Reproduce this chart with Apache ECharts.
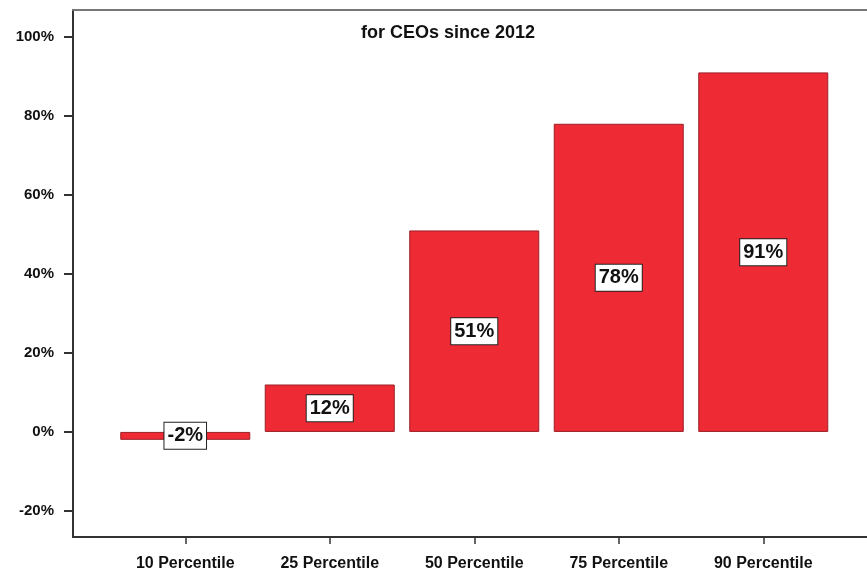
<!DOCTYPE html>
<html>
<head>
<meta charset="utf-8">
<script src="https://cdn.jsdelivr.net/npm/echarts@6/dist/echarts.min.js"></script>
<style>
html,body{margin:0;padding:0;background:#fff;}
#chart{width:867px;height:574px;}
</style>
</head>
<body>
<div id="chart"></div>
<script>
const categories = ['10 Percentile', '25 Percentile', '50 Percentile', '75 Percentile', '90 Percentile'];
const values = [-2, 12, 51, 78, 91];
const yTicks = [-20, 0, 20, 40, 60, 80, 100];
const titleText = 'for CEOs since 2012';

const yMin = -26.6, yMax = 106.8;
const font = 'Liberation Sans, Arial, sans-serif';
const chart = echarts.init(document.getElementById('chart'), null, {renderer: 'canvas'});
chart.setOption({
  animation: false,
  backgroundColor: '#ffffff',
  title: {
    text: titleText,
    left: 443,
    top: 19,
    textAlign: 'center',
    textStyle: {fontFamily: font, fontWeight: 'bold', fontSize: 18, color: '#111'}
  },
  grid: [
    {left: 73, right: 0, top: 10, bottom: 37},
    {left: 113, right: 31.5, top: 10, bottom: 37}
  ],
  xAxis: [
    {type: 'value', gridIndex: 0, min: 0, max: 1, position: 'bottom',
     axisLine: {show: true, onZero: false, lineStyle: {color: '#333', width: 2}},
     axisTick: {show: false}, axisLabel: {show: false}, splitLine: {show: false}},
    {type: 'value', gridIndex: 0, min: 0, max: 1, position: 'top',
     axisLine: {show: true, onZero: false, lineStyle: {color: '#777', width: 2}},
     axisTick: {show: false}, axisLabel: {show: false}, splitLine: {show: false}},
    {type: 'category', gridIndex: 1, data: categories, position: 'bottom',
     axisLine: {show: true, onZero: false, lineStyle: {color: '#333', width: 2}},
     axisTick: {show: true, alignWithLabel: true, length: 7, lineStyle: {color: '#333', width: 1.5}},
     axisLabel: {margin: 19, fontFamily: font, fontWeight: 'bold', fontSize: 16, color: '#111'},
     splitLine: {show: false}}
  ],
  yAxis: [
    {type: 'value', gridIndex: 0, min: yMin, max: yMax,
     axisLine: {show: true, onZero: false, lineStyle: {color: '#333', width: 2}},
     axisTick: {show: true, customValues: yTicks, length: 9, lineStyle: {color: '#333', width: 2}},
     axisLabel: {show: true, customValues: yTicks, margin: 19, formatter: '{value}%',
       fontFamily: font, fontWeight: 'bold', fontSize: 15, color: '#111'},
     splitLine: {show: false}},
    {type: 'value', gridIndex: 1, min: yMin, max: yMax, show: false}
  ],
  series: [{
    type: 'bar',
    xAxisIndex: 2,
    yAxisIndex: 1,
    data: values,
    barWidth: 130,
    itemStyle: {color: '#EE2A35', borderColor: '#9A1E25', borderWidth: 1},
    label: {
      show: true,
      position: 'inside',
      formatter: '{c}%',
      fontFamily: font,
      fontWeight: 'bold',
      fontSize: 20,
      color: '#111',
      backgroundColor: '#fff',
      borderColor: '#222',
      borderWidth: 1,
      padding: [4, 3, 2, 3]
    }
  }]
});
</script>
</body>
</html>
